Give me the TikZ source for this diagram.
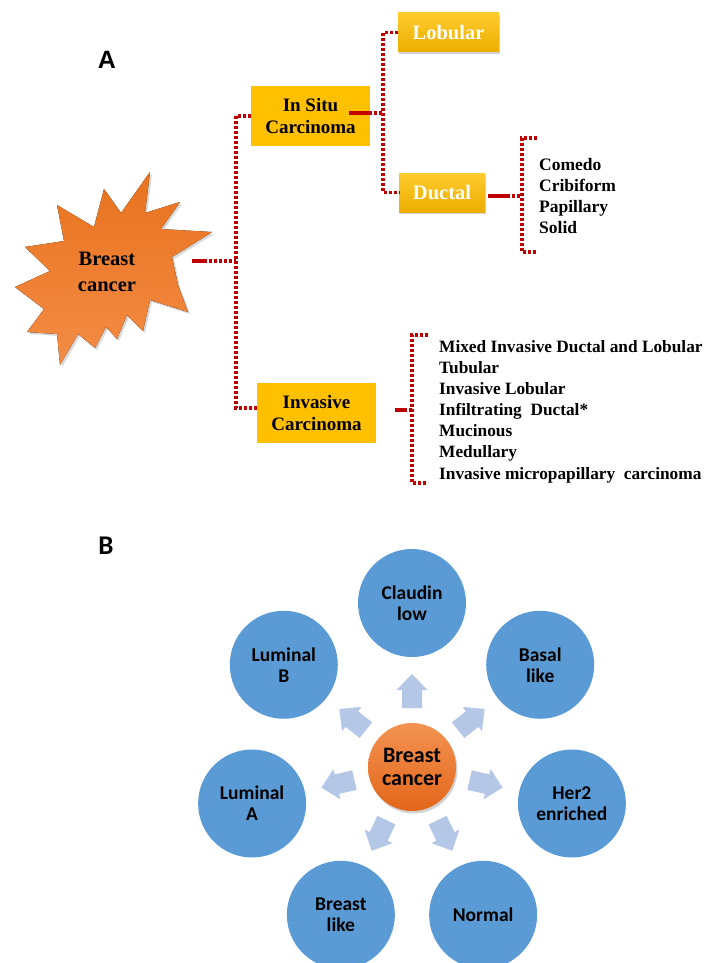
\documentclass[tikz,border=0pt]{standalone}
\usepackage{fontspec}
\setmainfont{Liberation Serif}
\newfontfamily\calib{Carlito}
\newfontfamily\arialf{Liberation Sans}
\usetikzlibrary{shadows,calc}
\definecolor{dred}{HTML}{C00000}
\definecolor{gold}{HTML}{FFC000}
\definecolor{goldtop}{HTML}{FFCB2E}
\definecolor{goldbot}{HTML}{EBAD00}
\definecolor{cblue}{HTML}{5B9BD5}
\definecolor{ablue}{HTML}{B4C7E7}
\definecolor{orgtop}{HTML}{E8721E}
\definecolor{orgbot}{HTML}{F48C45}
\definecolor{ctop}{HTML}{F39352}
\definecolor{cbot}{HTML}{E2661A}
\begin{document}
\begin{tikzpicture}[x=1pt,y=-1pt,
  dotl/.style={draw=dred, line width=3.4pt, dash pattern=on 3pt off 2pt},
  soll/.style={draw=dred, line width=3.4pt},
  flatbox/.style={fill=gold, draw=none, inner sep=0pt, align=center,
    font=\bfseries\fontsize{19}{22}\selectfont},
  gradbox/.style={top color=goldtop, bottom color=goldbot, draw=none, inner sep=0pt,
    text=white, font=\bfseries\fontsize{20.5}{22}\selectfont,
    drop shadow={shadow xshift=1pt, shadow yshift=-2pt, opacity=0.35}},
  listtxt/.style={anchor=west, inner sep=0pt, align=left},
  sub/.style={circle, fill=cblue, draw=none, minimum size=108pt, inner sep=0pt,
    align=center, font=\calib\bfseries\fontsize{19.5}{21}\selectfont},
  barrow/.style={fill=ablue, draw=none}
]
\useasboundingbox (0,0) rectangle (705,963);
\fill[white] (0,0) rectangle (705,963);

% ---------- Part A ----------
\node[font=\arialf\bfseries\fontsize{25}{28}\selectfont] (labA) at (107,60) {A};

% star
\fill[top color=orgtop, bottom color=orgbot, drop shadow={shadow xshift=2pt, shadow yshift=-2pt, opacity=0.3}]
  (150,172) -- (145,213) -- (180,202) -- (161,229) -- (212,232) -- (172,257)
  -- (178,285) -- (188,312) -- (150,300) -- (143,331) -- (127,315) -- (117,339)
  -- (106,327) -- (95,348) -- (78,334) -- (60,365) -- (57,334) -- (27,332)
  -- (44,309) -- (15,287) -- (50,271) -- (25,247) -- (64,241) -- (57,205)
  -- (94,227) -- (104,189) -- (121,213) -- cycle;
\node[align=center, inner sep=0pt, font=\bfseries\fontsize{20.5}{26}\selectfont] (star) at (107,272) {Breast\\cancer};
\coordinate (starR) at (192,261);
\coordinate (j1) at (236,261);

\node[flatbox, minimum width=119pt, minimum height=60pt] (insitu) at (310.5,116) {In Situ\\Carcinoma};
\node[flatbox, minimum width=119pt, minimum height=60pt] (invasive) at (316.5,413) {Invasive\\Carcinoma};
\node[gradbox, minimum width=101pt, minimum height=39pt] (lobular) at (448.5,32.5) {Lobular};
\node[gradbox, minimum width=86pt, minimum height=39pt] (ductal) at (442,192.5) {Ductal};

% star -> in situ / invasive
\draw[soll] (starR) -- ++(12,0) coordinate (s1);
\draw[dotl] (s1) -- (j1);
\draw[dotl] (insitu.west) -| (j1);
\draw[dotl] (j1) |- ($(invasive.west)+(0,-5)$);

% in situ -> lobular / ductal
\coordinate (j2) at (383,113);
\draw[soll] (349,113) -- (369,113) coordinate (s2);
\draw[dotl] (s2) -- (j2);
\draw[dotl] (lobular.west) -| (j2);
\draw[dotl] (j2) |- (ductal.west);

% ductal -> bracket
\coordinate (j3) at (522,196);
\coordinate (b3t) at (537,138);
\coordinate (b3b) at (537,252);
\draw[soll] ($(ductal.east)+(3,3.5)$) -- ++(19,0) coordinate (s3);
\draw[dotl] (s3) -- (j3);
\draw[dotl] (b3t) -| (j3) |- (b3b);
\node[listtxt, font=\bfseries\fontsize{17.5}{21.3}\selectfont] (dlist) at (539,196)
  {Comedo\\Cribiform\\Papillary\\Solid};

% invasive -> bracket
\coordinate (j4) at (412,410);
\coordinate (b4t) at (428,335);
\coordinate (b4b) at (428,483);
\draw[soll] ($(invasive.east)+(19,-3)$) -- ++(9,0) coordinate (s4);
\draw[dotl] (s4) -- (j4);
\draw[dotl] (b4t) -| (j4) |- (b4b);
\node[listtxt, font=\bfseries\fontsize{17.3}{21.15}\selectfont] (ilist) at (439,411.5)
  {Mixed Invasive Ductal and Lobular\\Tubular\\Invasive Lobular\\Infiltrating\ \ Ductal*\\Mucinous\\Medullary\\Invasive micropapillary\ \ carcinoma};

% ---------- Part B ----------
\node[font=\calib\bfseries\fontsize{27}{30}\selectfont] (labB) at (106,546) {B};
\coordinate (C) at (412,767);

\foreach \a in {-90,-38.571,12.857,64.286,115.714,167.143,218.571}{
  \fill[barrow, shift={(C)}, rotate=-\a]
    (59,-10) -- (77,-10) -- (77,-15.5) -- (93,0) -- (77,15.5) -- (77,10) -- (59,10) -- cycle;
}

\node[sub] (claudin) at ($(C)+(-90:164)$) {Claudin\\low};
\node[sub] (basal) at ($(C)+(-38.571:164)$) {Basal\\like};
\node[sub] (her2) at ($(C)+(12.857:164)$) {Her2\\enriched};
\node[sub] (normal) at ($(C)+(64.286:164)$) {Normal};
\node[sub] (blike) at ($(C)+(115.714:164)$) {Breast\\like};
\node[sub] (luma) at ($(C)+(167.143:164)$) {Luminal\\A};
\node[sub] (lumb) at ($(C)+(218.571:164)$) {Luminal\\B};

\node[circle, minimum size=88pt, inner sep=0pt, top color=ctop, bottom color=cbot, draw=none,
  drop shadow={shadow xshift=1.5pt, shadow yshift=-2.5pt, opacity=0.35},
  align=center, font=\calib\bfseries\fontsize{22}{23}\selectfont] (center) at (C) {Breast\\cancer};
\end{tikzpicture}
\end{document}
